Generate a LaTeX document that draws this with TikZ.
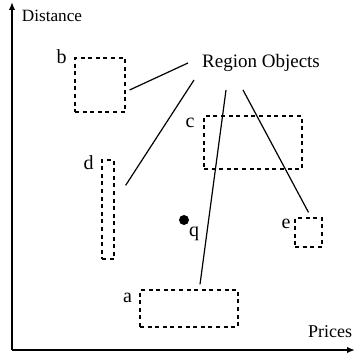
\documentclass[tikz,border=0pt]{standalone}
\usepackage{fontspec}
\setmainfont{Liberation Serif}
\usetikzlibrary{arrows.meta,positioning,calc}

\begin{document}
\begin{tikzpicture}[
  x=0.5pt, y=-0.5pt,
  every node/.style={font=\fontsize{9}{10}\selectfont, inner sep=0pt},
  region/.style={draw, dash pattern=on 2pt off 1.8pt, line width=0.6pt},
  tag/.style={font=\fontsize{10}{11}\selectfont},
  link/.style={line width=0.6pt},
  axis/.style={-{Latex[length=4pt,width=3.2pt]}, line width=1pt}
]
\useasboundingbox (0,0) rectangle (355,356);
% axes
\coordinate (origin) at (12,350);
\coordinate (xend) at (355,350);
\coordinate (yend) at (12,2);
\draw[axis] (origin) -- (xend);
\draw[axis] (origin) -- (yend);
\node[font=\fontsize{8.6}{10}\selectfont] (ylab) at (52,16) {Distance};
\node (xlab) at (330,332) {Prices};

% region objects
\node[region, minimum width=25pt, minimum height=27pt] (b) at (100,85) {};
\node[region, minimum width=6pt, minimum height=49.5pt] (d) at (108,209.5) {};
\node[region, minimum width=49pt, minimum height=26.5pt] (c) at (253,142.5) {};
\node[region, minimum width=13.5pt, minimum height=14.5pt] (e) at (308.5,232.5) {};
\node[region, minimum width=49pt, minimum height=18.5pt] (a) at (189,308.5) {};
\node[tag] (lb) at (61.5,57) {b};
\node[tag] (ld) at (88.5,163) {d};
\node[tag] (lc) at (190,122.5) {c};
\node[tag] (le) at (286,224) {e};
\node[tag] (la) at (127.5,298) {a};

% query point
\node[circle, fill, minimum size=5pt] (q) at (184,220) {};
\node[tag] (lq) at (194,234) {q};

% label and its links
\node[font=\fontsize{9.5}{11}\selectfont] (ro) at (261,62.5) {Region Objects};
\coordinate (r1) at (188,63);
\coordinate (r2) at (194,80);
\coordinate (r3) at (226,90);
\coordinate (r4) at (243,90);
\draw[link] (r1) -- ([shift={(4,5)}]b.east);
\draw[link] (r2) -- ([shift={(11,26)}]d.north east);
\draw[link] (r3) -- ([shift={(11,-5)}]a.north);
\draw[link] (r4) -- ([shift={(0,-5)}]e.north);
\end{tikzpicture}
\end{document}
